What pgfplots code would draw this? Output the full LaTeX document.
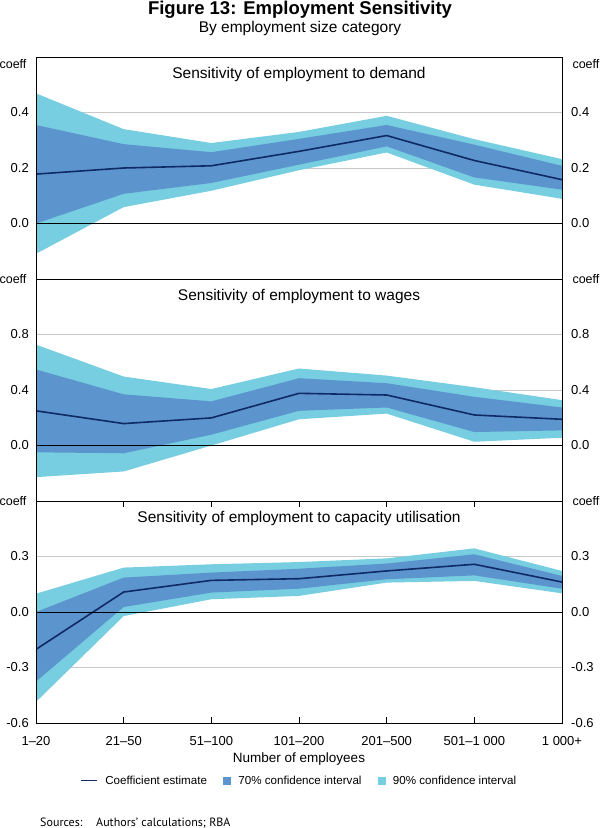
\documentclass[border=0pt]{standalone}
\usepackage{pgfplots}
\pgfplotsset{compat=1.18}
\usepackage{pgfplotstable}
\usepgfplotslibrary{fillbetween}
\usepackage{fontspec}
\setmainfont{Liberation Sans}
\newfontfamily\srcfont{PT Sans}
\definecolor{cline}{RGB}{16,42,102}
\definecolor{cdark}{RGB}{92,148,206}
\definecolor{clight}{RGB}{118,206,224}
\definecolor{cgrid}{RGB}{200,200,200}

\pgfplotstableread{
x u90 u70 est l70 l90
0 0.469 0.355 0.178 0.000 -0.109
1 0.340 0.286 0.200 0.107 0.059
2 0.290 0.257 0.208 0.146 0.118
3 0.330 0.305 0.260 0.212 0.192
4 0.388 0.355 0.317 0.278 0.256
5 0.304 0.284 0.227 0.166 0.140
6 0.232 0.208 0.158 0.122 0.089
}\demand

\pgfplotstableread{
x u90 u70 est l70 l90
0 0.727 0.548 0.250 -0.049 -0.228
1 0.497 0.369 0.158 -0.056 -0.187
2 0.407 0.318 0.199 0.078 0.000
3 0.555 0.485 0.376 0.250 0.189
4 0.504 0.449 0.364 0.274 0.230
5 0.420 0.351 0.220 0.097 0.027
6 0.327 0.274 0.189 0.109 0.056
}\wages

\pgfplotstableread{
x u90 u70 est l70 l90
0 0.099 0.000 -0.202 -0.376 -0.486
1 0.240 0.186 0.108 0.027 -0.022
2 0.258 0.213 0.171 0.105 0.069
3 0.270 0.234 0.180 0.126 0.087
4 0.290 0.262 0.222 0.177 0.159
5 0.344 0.312 0.258 0.198 0.168
6 0.222 0.195 0.162 0.126 0.101
}\capac

\tikzset{coefflab/.style={font=\fontsize{12.5}{15}\selectfont}}

\pgfplotsset{
  panel/.style={width=526pt,height=222pt,scale only axis,xmin=0,xmax=6,
    clip mode=individual,
    ymajorgrids, grid style={cgrid,line width=0.8pt},
    ytick style={draw=none},
    xtick style={black,line width=0.8pt},
    xtick align=inside, major tick length=6pt,
    tick label style={font=\fontsize{13}{15}\selectfont},
    yticklabel style={inner sep=0pt}, yticklabel shift=7pt,
    /pgf/number format/assume math mode=true,
    title style={at={(axis description cs:0.5,1)},anchor=base,yshift=-27.5pt,
      font=\fontsize{15.5}{18}\selectfont},
  },
  rpanel/.style={width=526pt,height=222pt,scale only axis,xmin=0,xmax=6,
    clip=false, axis y line*=right, axis x line=none, xtick=\empty,
    ytick style={draw=none},
    tick label style={font=\fontsize{13}{15}\selectfont},
    yticklabel style={inner sep=0pt}, yticklabel shift=9pt,
    /pgf/number format/assume math mode=true,
  },
}

\begin{document}
\begin{tikzpicture}[x=1pt,y=1pt]
\node[anchor=base,font=\bfseries\fontsize{18.5}{22}\selectfont] at (300,-14.5) {Figure 13: Employment Sensitivity};
\node[anchor=base,font=\fontsize{15.5}{18}\selectfont] at (300,-32.5) {By employment size category};

% Panel 1
\begin{axis}[panel, at={(36pt,-57pt)}, anchor=north west,
  ymin=-0.2, ymax=0.6, ytick={0,0.2,0.4}, yticklabels={0.0,0.2,0.4},
  xtick=\empty, title={Sensitivity of employment to demand}]
\addplot[draw=none, name path=a1] table[x=x,y=u90]{\demand};
\addplot[draw=none, name path=b1] table[x=x,y=l90]{\demand};
\addplot[fill=clight, draw=none] fill between[of=a1 and b1];
\addplot[draw=none, name path=c1] table[x=x,y=u70]{\demand};
\addplot[draw=none, name path=d1] table[x=x,y=l70]{\demand};
\addplot[fill=cdark, draw=none] fill between[of=c1 and d1];
\addplot[cline, line width=1.6pt] table[x=x,y=est]{\demand};
\draw[black, line width=0.8pt] (axis cs:0,0) -- (axis cs:6,0);
\draw[black, line width=0.8pt] (rel axis cs:0,0) rectangle (rel axis cs:1,1);
\node[coefflab, anchor=base east, xshift=-6pt, yshift=-11.3pt] at (rel axis cs:0,1) {coeff};
\end{axis}
\begin{axis}[rpanel, at={(36pt,-57pt)}, anchor=north west,
  ymin=-0.2, ymax=0.6, ytick={0,0.2,0.4}, yticklabels={0.0,0.2,0.4}]
\node[coefflab, anchor=base west, xshift=7pt, yshift=-11.3pt] at (rel axis cs:1,1) {coeff};
\end{axis}

% Panel 2
\begin{axis}[panel, at={(36pt,-279pt)}, anchor=north west,
  ymin=-0.4, ymax=1.2, ytick={0,0.4,0.8}, yticklabels={0.0,0.4,0.8},
  xtick=\empty, title={Sensitivity of employment to wages}]
\addplot[draw=none, name path=a2] table[x=x,y=u90]{\wages};
\addplot[draw=none, name path=b2] table[x=x,y=l90]{\wages};
\addplot[fill=clight, draw=none] fill between[of=a2 and b2];
\addplot[draw=none, name path=c2] table[x=x,y=u70]{\wages};
\addplot[draw=none, name path=d2] table[x=x,y=l70]{\wages};
\addplot[fill=cdark, draw=none] fill between[of=c2 and d2];
\addplot[cline, line width=1.6pt] table[x=x,y=est]{\wages};
\draw[black, line width=0.8pt] (axis cs:0,0) -- (axis cs:6,0);
\draw[black, line width=0.8pt] (rel axis cs:0,0) rectangle (rel axis cs:1,1);
\node[coefflab, anchor=base east, xshift=-6pt, yshift=-4.3pt] at (rel axis cs:0,1) {coeff};
\end{axis}
\begin{axis}[rpanel, at={(36pt,-279pt)}, anchor=north west,
  ymin=-0.4, ymax=1.2, ytick={0,0.4,0.8}, yticklabels={0.0,0.4,0.8}]
\node[coefflab, anchor=base west, xshift=7pt, yshift=-4.3pt] at (rel axis cs:1,1) {coeff};
\end{axis}

% Panel 3
\begin{axis}[panel, at={(36pt,-501pt)}, anchor=north west,
  ymin=-0.6, ymax=0.6, ytick={-0.6,-0.3,0,0.3}, yticklabels={-0.6,-0.3,0.0,0.3},
  xtick={0,1,2,3,4,5,6},
  xticklabels={1–20,21–50,51–100,101–200,201–500,501–1 000,1 000+},
  xticklabel style={anchor=base, yshift=-22.7pt},
  xlabel={Number of employees},
  xlabel style={at={(axis description cs:0.5,0)}, anchor=base, yshift=-39.3pt,
    font=\fontsize{13.5}{16}\selectfont},
  title={Sensitivity of employment to capacity utilisation},
  legend columns=3,
  legend cell align=left,
  legend style={at={(axis description cs:0.5,-0.26)}, anchor=center, draw=none, fill=none,
    inner sep=0pt, font=\fontsize{11.6}{13}\selectfont,
    /tikz/every odd column/.append style={column sep=6pt},
    /tikz/every even column/.append style={column sep=14pt}},
]
\addplot[draw=none, name path=a3, forget plot] table[x=x,y=u90]{\capac};
\addplot[draw=none, name path=b3, forget plot] table[x=x,y=l90]{\capac};
\addplot[fill=clight, draw=none, forget plot] fill between[of=a3 and b3];
\addplot[draw=none, name path=c3, forget plot] table[x=x,y=u70]{\capac};
\addplot[draw=none, name path=d3, forget plot] table[x=x,y=l70]{\capac};
\addplot[fill=cdark, draw=none, forget plot] fill between[of=c3 and d3];
\addplot[cline, line width=1.6pt, forget plot] table[x=x,y=est]{\capac};
\addlegendimage{legend image code/.code={\draw[cline,line width=1.5pt] (0pt,0pt) -- (16pt,0pt);}}
\addlegendentry{Coefficient estimate}
\addlegendimage{legend image code/.code={\fill[cdark] (0pt,-3.5pt) rectangle (7pt,3.5pt);}}
\addlegendentry{70\% confidence interval}
\addlegendimage{legend image code/.code={\fill[clight] (0pt,-3.5pt) rectangle (7pt,3.5pt);}}
\addlegendentry{90\% confidence interval}
\draw[black, line width=0.8pt] (axis cs:0,0) -- (axis cs:6,0);
\draw[black, line width=0.8pt] (rel axis cs:0,0) rectangle (rel axis cs:1,1);
\node[coefflab, anchor=base east, xshift=-6pt, yshift=-4.3pt] at (rel axis cs:0,1) {coeff};
\end{axis}
\begin{axis}[rpanel, at={(36pt,-501pt)}, anchor=north west,
  ymin=-0.6, ymax=0.6, ytick={-0.6,-0.3,0,0.3}, yticklabels={-0.6,-0.3,0.0,0.3}]
\node[coefflab, anchor=base west, xshift=7pt, yshift=-4.3pt] at (rel axis cs:1,1) {coeff};
\end{axis}

\node[anchor=base west, font=\srcfont\fontsize{12}{14}\selectfont] at (36.7,-826) {Sources:};
\node[anchor=base west, font=\srcfont\fontsize{12}{14}\selectfont] at (92.7,-826) {Authors’ calculations; RBA};
\pgfresetboundingbox
\useasboundingbox (0,0) rectangle (600,-828);
\end{tikzpicture}
\end{document}
